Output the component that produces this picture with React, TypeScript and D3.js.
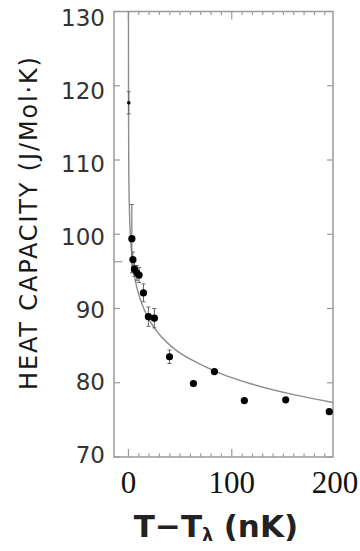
import React from 'react';
import * as d3 from 'd3';

// measured points above T-lambda
const tValues = [0.3, 3.3, 4.3, 5.8, 8.1, 10.3, 14.5, 19.3, 25.1, 39.7, 62.9, 83.2, 112.2, 152.2, 194.4];
const heatValues = [117.7, 99.4, 96.6, 95.3, 94.8, 94.5, 92.1, 88.9, 88.7, 83.5, 79.9, 81.5, 77.6, 77.7, 76.1];
const errValues = [1.5, 4.6, 1.0, 1.0, 1.0, 1.0, 1.2, 1.3, 1.3, 0.9, 0, 0, 0, 0, 0];

// fitted curve
const fitT = [0.003, 0.05, 0.3, 1, 2, 3.3, 5, 8, 12, 20, 30, 45, 65, 90, 120, 160, 200];
const fitC = [130, 117.5, 108.8, 103, 99.6, 97.2, 95.2, 92.9, 91, 88.5, 86.5, 84.5, 82.8, 81.2, 79.8, 78.4, 77.3];

// short branch below T-lambda
const belowT = [-14, -6];
const belowC = [96.3, 96.3];

const yTicks = [70, 80, 90, 100, 110, 120, 130];
const xTicks = [0, 100, 200];
const xMinor = d3.range(0, 200, 10);

const W = 360;
const H = 551;
const frame = { left: 114, right: 333, top: 11.5, bottom: 457 };

const App: React.FC = () => {
  const x = d3.scaleLinear().domain([-14, 198]).range([frame.left, frame.right]);
  const y = d3.scaleLinear().domain([70, 130]).range([frame.bottom, frame.top]);
  // tick labels sit on a slightly tighter spacing than the ticks
  const yLab = d3.scaleLinear().domain([70, 130]).range([455, 18]);

  const fitLine = d3
    .line<number>()
    .x((_, i) => x(fitT[i]))
    .y(d => y(d))
    .curve(d3.curveMonotoneX);
  const belowLine = d3
    .line<number>()
    .x((_, i) => x(belowT[i]))
    .y(d => y(d));

  const frameColor = '#9a9a9a';

  return (
    <svg
      width={W}
      height={H}
      style={{ position: 'absolute', left: 0, top: 0, background: '#fff' }}
    >
      <defs>
        <clipPath id="plot-clip">
          <rect x={frame.left} y={frame.top} width={frame.right - frame.left} height={frame.bottom - frame.top} />
        </clipPath>
      </defs>

      {/* frame */}
      <rect
        x={frame.left}
        y={frame.top}
        width={frame.right - frame.left}
        height={frame.bottom - frame.top}
        fill="none"
        stroke={frameColor}
        strokeWidth={1.5}
      />

      {/* y ticks, left and right, inward */}
      {yTicks.map(v => (
        <g key={`yt${v}`} stroke={frameColor} strokeWidth={1.2}>
          <line x1={frame.left} x2={frame.left + 6} y1={y(v)} y2={y(v)} />
          <line x1={frame.right} x2={frame.right - 6} y1={y(v)} y2={y(v)} />
        </g>
      ))}

      {/* x minor + major ticks, top and bottom */}
      {xMinor.map(v => {
        const len = v % 100 === 0 ? 8 : 3.5;
        return (
          <g key={`xt${v}`} stroke={frameColor} strokeWidth={1.2}>
            <line x1={x(v)} x2={x(v)} y1={frame.bottom} y2={frame.bottom - len} />
            <line x1={x(v)} x2={x(v)} y1={frame.top} y2={frame.top + len} />
          </g>
        );
      })}

      {/* y tick labels */}
      {yTicks.map(v => (
        <text
          key={`yl${v}`}
          x={105}
          y={yLab(v)}
          dy="0.36em"
          textAnchor="end"
          fontFamily="DejaVu Sans, sans-serif"
          fontSize={23}
          fill="#333"
        >
          {v}
        </text>
      ))}

      {/* x tick labels */}
      {xTicks.map(v => (
        <text
          key={`xl${v}`}
          x={x(v)}
          y={493}
          textAnchor="middle"
          fontFamily="Liberation Serif, serif"
          fontSize={31}
          fill="#111"
        >
          {v}
        </text>
      ))}

      {/* axis titles */}
      <text
        transform={`translate(37, ${223.5}) rotate(-90)`}
        textAnchor="middle"
        fontFamily="DejaVu Sans, sans-serif"
        fontSize={24}
        textLength={333}
        lengthAdjust="spacing"
        fill="#1a1a1a"
      >
        HEAT CAPACITY (J/Mol·K)
      </text>
      <text
        x={216}
        y={537}
        textAnchor="middle"
        fontFamily="DejaVu Sans, sans-serif"
        fontWeight="bold"
        fontSize={31}
        fill="#222"
      >
        T−T<tspan fontSize={17} dy={4}>λ</tspan>
        <tspan dy={-4}> (nK)</tspan>
      </text>

      <g clipPath="url(#plot-clip)">
        {/* fit curves */}
        <path d={fitLine(fitC) || ''} fill="none" stroke="#8c8c8c" strokeWidth={1.4} />
        <path d={belowLine(belowC) || ''} fill="none" stroke={frameColor} strokeWidth={1.2} />

        {/* error bars */}
        {tValues.map((t, i) =>
          errValues[i] > 0 ? (
            <g key={`e${i}`} stroke="#666" strokeWidth={1}>
              <line x1={x(t)} x2={x(t)} y1={y(heatValues[i] - errValues[i])} y2={y(heatValues[i] + errValues[i])} />
              <line x1={x(t) - 2} x2={x(t) + 2} y1={y(heatValues[i] + errValues[i])} y2={y(heatValues[i] + errValues[i])} />
              <line x1={x(t) - 2} x2={x(t) + 2} y1={y(heatValues[i] - errValues[i])} y2={y(heatValues[i] - errValues[i])} />
            </g>
          ) : null
        )}

        {/* points */}
        {tValues.map((t, i) => (
          <circle key={`p${i}`} cx={x(t)} cy={y(heatValues[i])} r={i === 0 ? 1.8 : 3.6} fill="#000" />
        ))}
      </g>
    </svg>
  );
};

export default App;
